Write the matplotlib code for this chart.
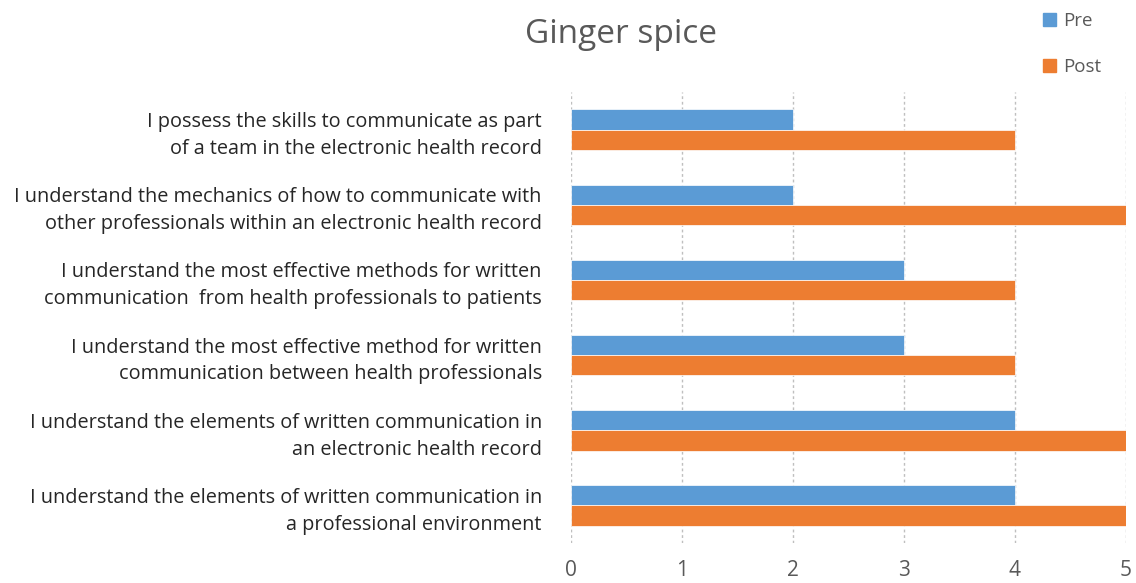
import numpy as np
import matplotlib.pyplot as plt
from matplotlib.patches import Patch

plt.rcParams['font.family'] = ['Open Sans', 'DejaVu Sans']

# categories listed top to bottom as in the chart
labels = [
    "I possess the skills to communicate as part\nof a team in the electronic health record",
    "I understand the mechanics of how to communicate with\nother professionals within an electronic health record",
    "I understand the most effective methods for written\ncommunication  from health professionals to patients",
    "I understand the most effective method for written\ncommunication between health professionals",
    "I understand the elements of written communication in\nan electronic health record",
    "I understand the elements of written communication in\na professional environment",
]
pre = [2, 2, 3, 3, 4, 4]
post = [4, 5, 4, 4, 5, 5]

blue = '#5B9BD5'
orange = '#ED7D31'
grey = '#595959'

fig = plt.figure(figsize=(11.36, 5.83), dpi=100)
ax = fig.add_axes([0.5026, 0.0686, 0.4886, 0.7734])

y = np.arange(len(labels))
h = 0.27
ax.barh(y - h / 2, pre, height=h, color=blue, edgecolor='white', linewidth=0.5, zorder=3)
ax.barh(y + h / 2, post, height=h, color=orange, edgecolor='white', linewidth=0.5, zorder=3)

ax.set_ylim(len(labels) - 0.5, -0.5)
ax.set_xlim(0, 5)
ax.set_yticks(y)
ax.set_yticklabels(labels, fontsize=14.3, color='#262626', ha='right')
ax.set_xticks(range(6))
ax.tick_params(axis='x', labelsize=15, colors=grey, length=0, pad=12)
ax.tick_params(axis='y', length=0, pad=21)
for lbl in ax.get_yticklabels():
    lbl.set_multialignment('right')
    lbl.set_linespacing(1.45)

ax.grid(axis='x', color='#BFBFBF', linestyle=(0, (2, 2)), linewidth=1, zorder=0)
for s in ax.spines.values():
    s.set_visible(False)

fig.text(0.547, 0.94, 'Ginger spice', ha='center', va='center', fontsize=24, color=grey)

handles = [Patch(color=blue, label='Pre'), Patch(color=orange, label='Post')]
fig.legend(handles=handles, loc='upper left', bbox_to_anchor=(0.903, 1.008), frameon=False,
           fontsize=13.5, labelcolor=grey, handlelength=0.7, handleheight=0.7,
           handletextpad=0.4, labelspacing=1.5)

fig.savefig('out.png', dpi=100)
